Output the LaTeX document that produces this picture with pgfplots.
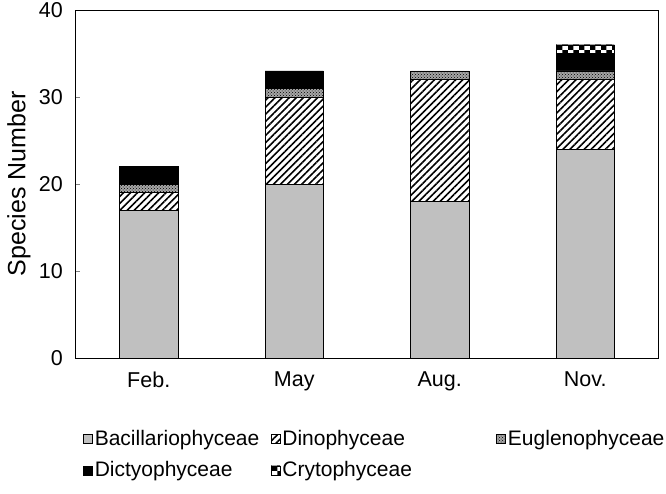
\documentclass[border=0pt]{standalone}
\usepackage{fontspec}
\setmainfont{Liberation Sans}
\usepackage{pgfplots}
\pgfplotsset{compat=1.18}
\usetikzlibrary{patterns,patterns.meta}

% Phytoplankton species number by class and season
\begin{document}
\fontsize{21}{25}\selectfont
\begin{tikzpicture}
\useasboundingbox (-76pt,-135pt) rectangle (590pt,358pt);
\begin{axis}[
  at={(0,0)}, anchor=south west,
  scale only axis,
  width=582pt, height=348pt,
  ybar stacked,
  bar width=0.4,
  xmin=-0.5, xmax=3.5,
  ymin=0, ymax=40,
  xtick=data,
  xticklabels={Feb., May, Aug., Nov.},
  ytick={0,10,20,30,40},
  ytick pos=left,
  tick align=inside,
  major tick length=4pt,
  xtick style={draw=none},
  axis line style={line width=1pt},
  /pgf/number format/assume math mode=true,
  yticklabel style={xshift=-6pt, font=\fontsize{21.5}{25}\selectfont},
  xticklabel style={yshift=-7pt, font=\fontsize{21.5}{25}\selectfont},
  ylabel={Species Number},
  ylabel style={yshift=-6pt, font=\fontsize{25}{28}\selectfont},
  legend columns=3,
  legend cell align=left,
  legend style={at={(0.012,-0.2)}, anchor=north west, draw=none,
    inner sep=0pt, row sep=9pt, column sep=0pt,
    nodes={inner xsep=2pt},
    font=\fontsize{21}{25}\selectfont},
  legend image code/.code={
    \draw[#1, line width=0.6pt] (0pt,-4.5pt) rectangle (9pt,4.5pt);},
  every axis plot/.append style={draw=black, line width=0.6pt},
]
% Bacillariophyceae
\addplot[fill={rgb,255:red,192;green,192;blue,192}] coordinates {(0,17) (1,20) (2,18) (3,24)};
% Dinophyceae
\addplot[pattern={Lines[angle=45,distance=5pt,line width=1.6pt]}] coordinates {(0,2) (1,10) (2,14) (3,8)};
% Euglenophyceae
\addplot[fill=gray!70, postaction={pattern=crosshatch dots}] coordinates {(0,1) (1,1) (2,1) (3,1)};
% Dictyophyceae
\addplot[fill=black] coordinates {(0,2) (1,2) (2,0) (3,2)};
% Crytophyceae
\addplot[pattern=checkerboard] coordinates {(0,0) (1,0) (2,0) (3,1)};
\legend{\makebox[174pt][l]{Bacillariophyceae}, \makebox[212pt][l]{Dinophyceae}, Euglenophyceae,
        \makebox[174pt][l]{Dictyophyceae}, \makebox[212pt][l]{Crytophyceae}}
\end{axis}
\end{tikzpicture}
\end{document}
